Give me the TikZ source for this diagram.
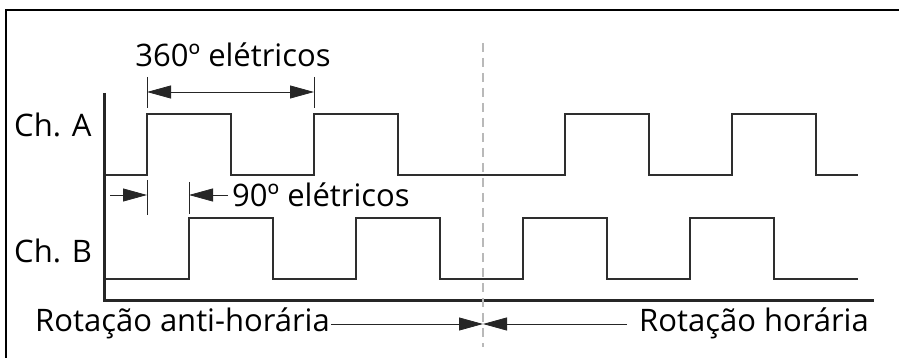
\documentclass[tikz,border=0pt]{standalone}
\usepackage{fontspec}
\setmainfont{Open Sans}
\usetikzlibrary{arrows.meta}

\begin{document}
\begin{tikzpicture}[x=1pt,y=-1pt,
	wave/.style={line width=2pt,draw=black!82,line join=miter},
	dim/.style={line width=0.8pt,draw=black!85},
	tip/.style={-{Triangle[length=24pt,width=13pt]}},
	lbl/.style={font=\fontsize{31}{33}\selectfont,inner sep=0pt}]
	\useasboundingbox (0,0) rectangle (899,358);
	\draw[line width=2pt] (6,358) -- (6,10) -- (899,10);
	% axes
	\draw[line width=3pt,black!85] (104,93) -- (104,300) -- (874,300);
	% Ch. A and Ch. B, a quarter period apart
	\draw[wave] (106,175) \foreach \s in {147,314,565,732}
		{ -- (\s,175) -- (\s,114) -- (\s+84,114) -- (\s+84,175) } -- (858,175);
	\draw[wave] (106,279) \foreach \s in {189,356,523,690}
		{ -- (\s,279) -- (\s,218) -- (\s+84,218) -- (\s+84,279) } -- (858,279);
	\draw[gray!55,line width=1.4pt,dash pattern=on 9pt off 6pt] (483,43) -- (483,347);
	
	\node[lbl,anchor=base west] (cha) at (14,137) {Ch. A};
	\node[lbl,anchor=base west] (chb) at (14,262) {Ch. B};
	
	\coordinate (a1) at (147,92);
	\coordinate (a2) at (314,92);
	\draw[dim] (147,77) -- (147,108);
	\draw[dim] (314,77) -- (314,108);
	\draw[dim,{Triangle[length=24pt,width=13pt]}-{Triangle[length=24pt,width=13pt]}] (a1) -- (a2);
	\node[lbl,anchor=base] (per) at (233,67) {360º elétricos};
	
	\coordinate (b0) at (110,195);
	\coordinate (b1) at (147,195);
	\coordinate (b2) at (189,195);
	\coordinate (b3) at (228,195);
	\draw[dim] (147,180) -- (147,215);
	\draw[dim] (189,182) -- (189,214);
	\draw[dim,tip] (b0) -- (b1);
	\draw[dim,tip] (b3) -- (b2);
	\node[lbl,anchor=base west] (fase) at (232,207) {90º elétricos};
	
	\node[lbl,anchor=base west] (ccw) at (35,331) {Rotação anti-horária};
	\node[lbl,anchor=base east] (cw) at (869,331) {Rotação horária};
	\coordinate (c0) at (331,324);
	\coordinate (mid) at (483,324);
	\coordinate (c1) at (627,324);
	\draw[dim,tip] (c0) -- (mid);
	\draw[dim,tip] (c1) -- (mid);
\end{tikzpicture}
\end{document}
